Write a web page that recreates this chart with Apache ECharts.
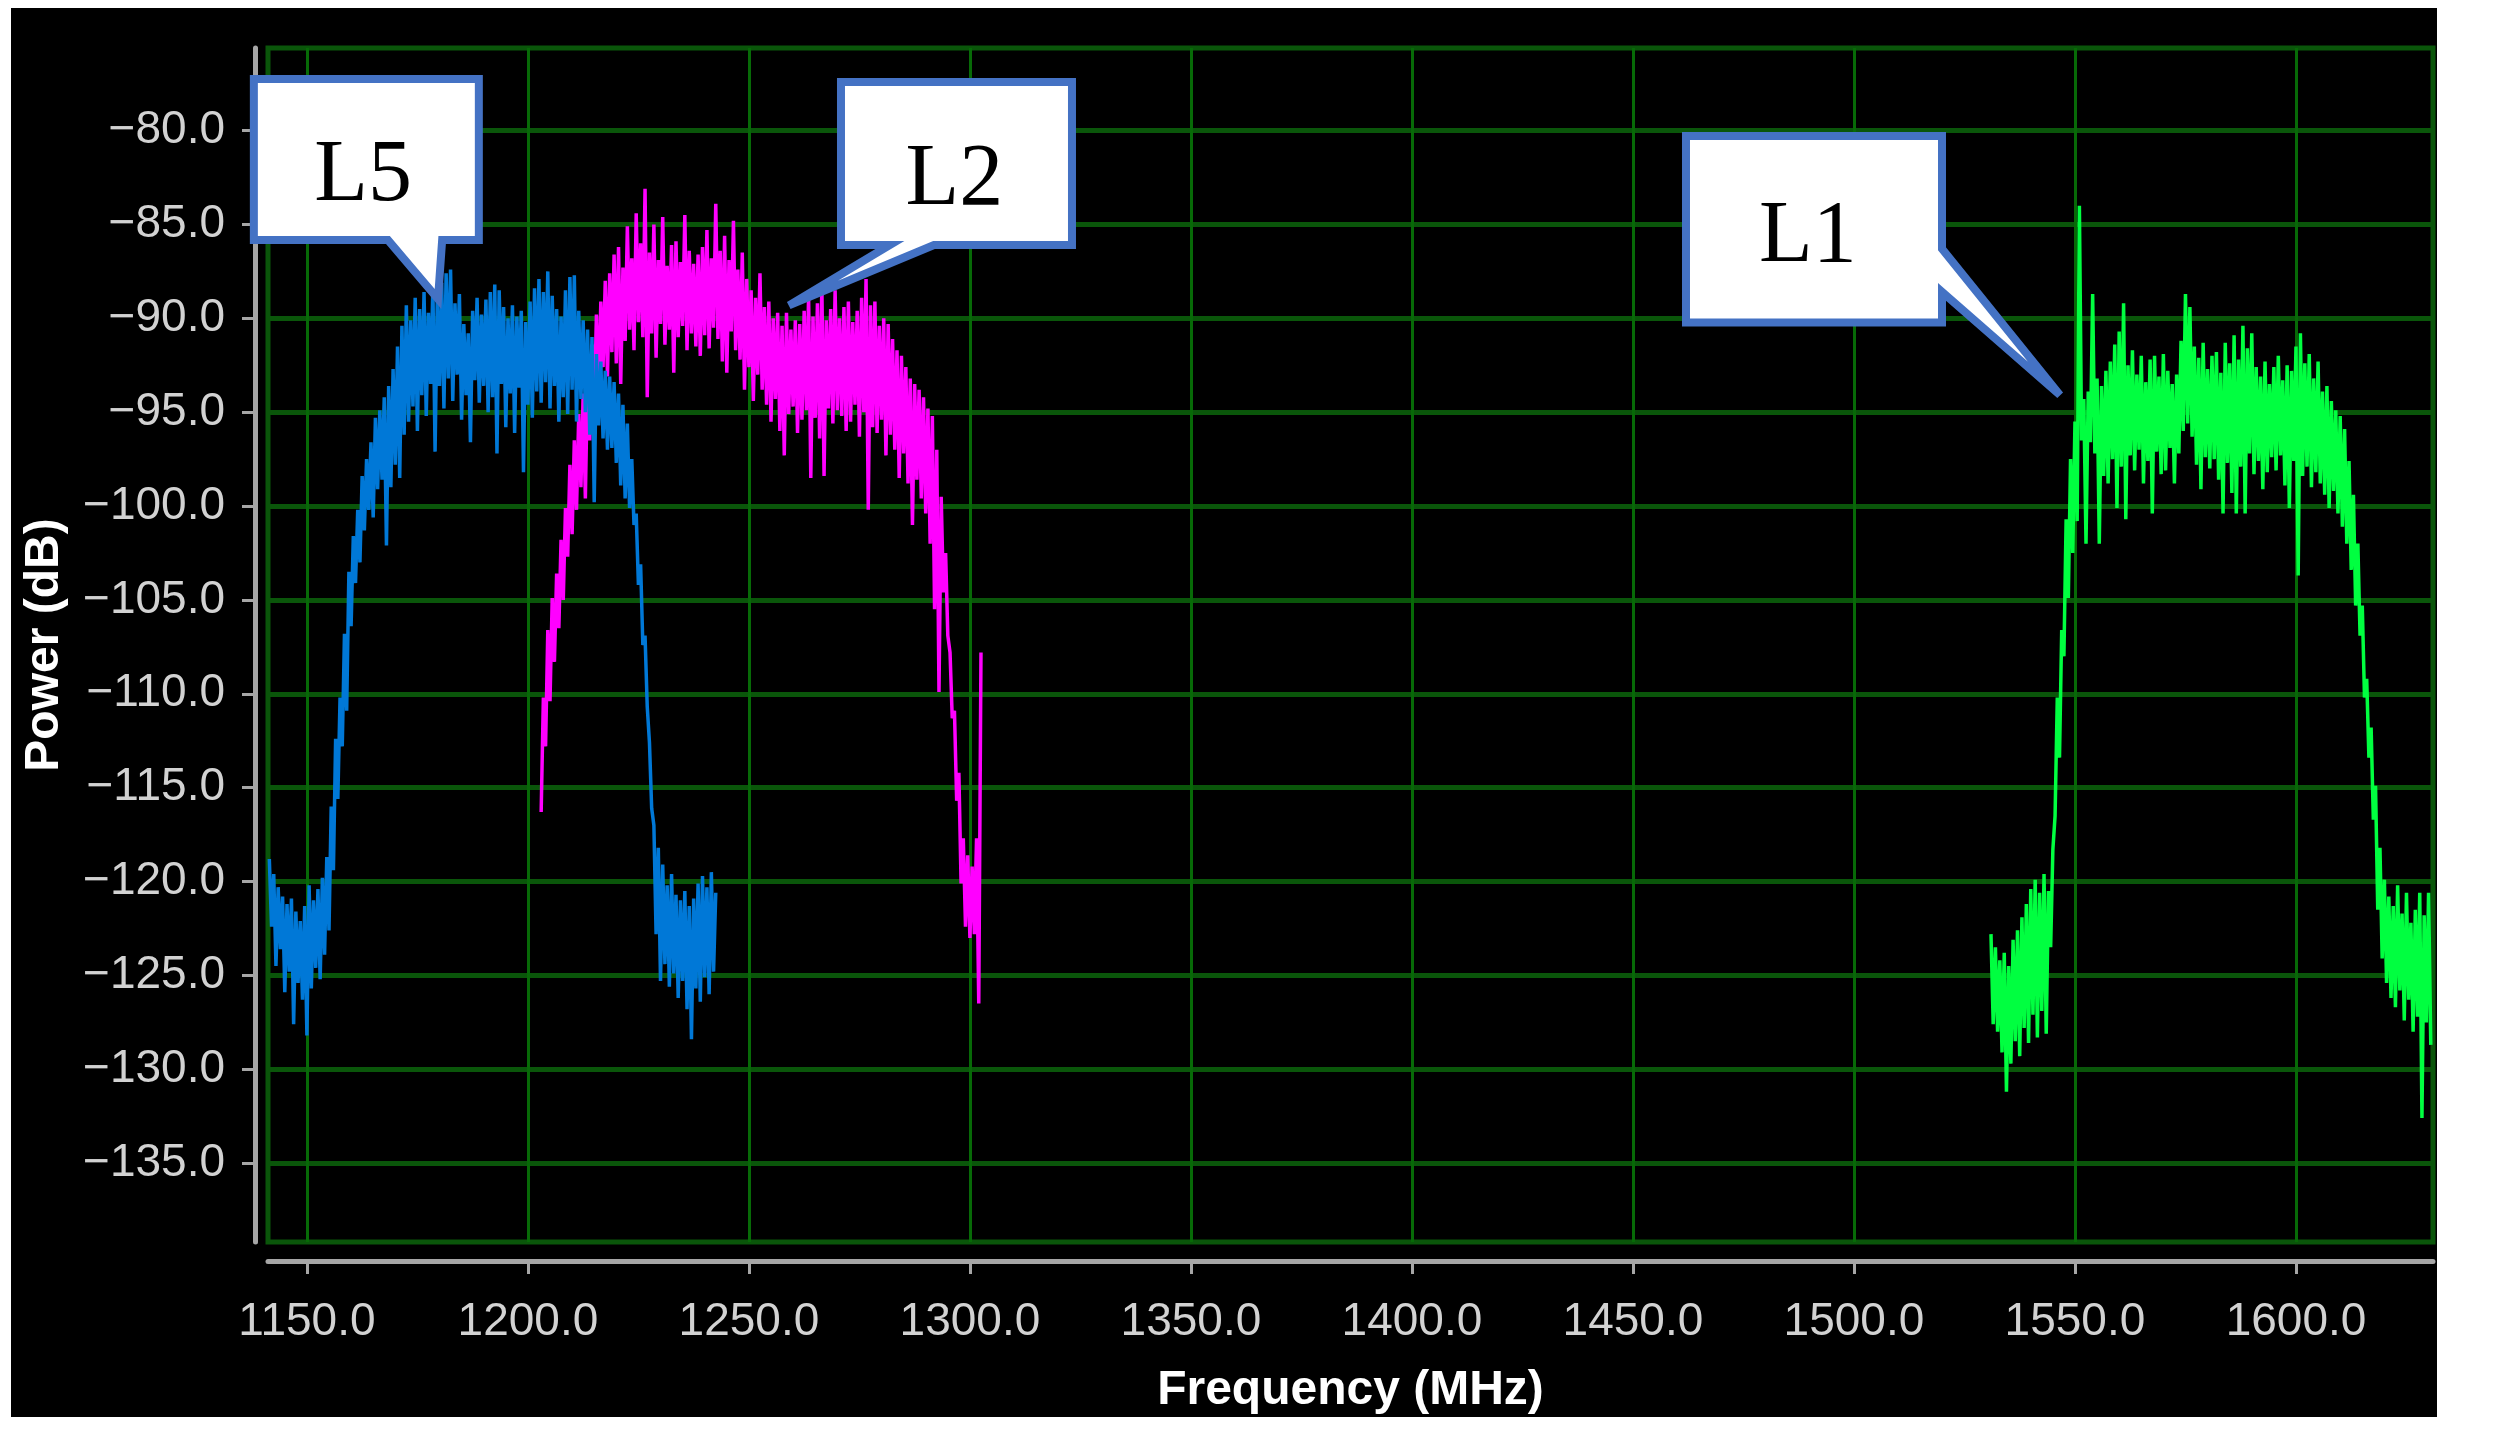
<!DOCTYPE html>
<html><head><meta charset="utf-8">
<script src="https://cdn.jsdelivr.net/npm/echarts@6/dist/echarts.min.js"></script>
<style>html,body{margin:0;padding:0;background:#fff;}#c{width:2497px;height:1433px;}</style>
</head><body><div id="c"></div>
<script>
// ---- data ----
const xTickValues = [1150,1200,1250,1300,1350,1400,1450,1500,1550,1600];
const yTickValues = [-135,-130,-125,-120,-115,-110,-105,-100,-95,-90,-85,-80];
const xRange = [1141.2, 1631];
const yRange = [-139.2, -75.6];
const xTitle = 'Frequency (MHz)';
const yTitle = 'Power (dB)';
const seriesNames = ['L2','L5','L1'];

const l5 = [[1141.5,-118.8],[1142,-122.4],[1142.5,-119.6],[1143,-124.5],[1143.5,-120.3],[1144,-123.6],[1144.5,-120.8],[1145,-125.9],[1145.5,-121.2],[1146,-124.8],[1146.5,-120.9],[1147,-127.6],[1147.5,-121.6],[1148,-125.4],[1148.5,-122.1],[1149,-126.3],[1149.5,-121.3],[1150,-128.2],[1150.5,-120.2],[1151,-125.7],[1151.5,-121.0],[1152,-124.6],[1152.5,-120.4],[1153,-125.2],[1153.5,-119.8],[1154,-123.9],[1154.5,-118.7],[1155,-122.6],[1155.5,-116.0],[1156,-119.4],[1156.5,-112.4],[1157,-115.6],[1157.5,-110.2],[1158,-112.8],[1158.5,-106.8],[1159,-110.9],[1159.5,-103.5],[1160,-106.4],[1160.5,-101.6],[1161,-104.1],[1161.5,-100.2],[1162,-103.0],[1162.5,-98.4],[1163,-101.3],[1163.5,-97.5],[1164,-100.2],[1164.5,-96.6],[1165,-100.6],[1165.5,-95.3],[1166,-99.1],[1166.5,-94.9],[1167,-98.6],[1167.5,-94.2],[1168,-102.1],[1168.5,-93.6],[1169,-99.0],[1169.5,-92.7],[1170,-97.8],[1170.5,-91.5],[1171,-98.5],[1171.5,-90.4],[1172,-96.2],[1172.5,-89.3],[1173,-95.5],[1173.5,-90.1],[1174,-94.7],[1174.5,-88.9],[1175,-96.0],[1175.5,-89.5],[1176,-94.1],[1176.5,-88.6],[1177,-95.2],[1177.5,-89.7],[1178,-93.5],[1178.5,-88.3],[1179,-97.1],[1179.5,-89.0],[1180,-93.6],[1180.5,-88.1],[1181,-94.8],[1181.5,-87.6],[1182,-93.2],[1182.5,-87.4],[1183,-94.4],[1183.5,-89.2],[1184,-93.0],[1184.5,-88.7],[1185,-95.4],[1185.5,-90.3],[1186,-94.1],[1186.5,-90.8],[1187,-96.6],[1187.5,-89.6],[1188,-93.3],[1188.5,-88.9],[1189,-94.5],[1189.5,-89.8],[1190,-93.6],[1190.5,-89.0],[1191,-95.0],[1191.5,-88.6],[1192,-94.2],[1192.5,-88.2],[1193,-97.2],[1193.5,-88.5],[1194,-93.5],[1194.5,-89.4],[1195,-95.8],[1195.5,-90.0],[1196,-94.0],[1196.5,-89.3],[1197,-96.1],[1197.5,-89.9],[1198,-93.7],[1198.5,-89.6],[1199,-98.2],[1199.5,-90.2],[1200,-94.6],[1200.5,-89.1],[1201,-95.3],[1201.5,-88.4],[1202,-93.9],[1202.5,-87.9],[1203,-94.5],[1203.5,-88.6],[1204,-93.4],[1204.5,-87.5],[1205,-94.8],[1205.5,-88.8],[1206,-93.6],[1206.5,-89.5],[1207,-95.5],[1207.5,-89.9],[1208,-94.2],[1208.5,-88.5],[1209,-95.1],[1209.5,-87.8],[1210,-93.8],[1210.5,-87.7],[1211,-95.5],[1211.5,-89.6],[1212,-94.3],[1212.5,-90.1],[1213,-95.0],[1213.5,-90.6],[1214,-96.2],[1214.5,-91.0],[1215,-99.8],[1215.5,-91.9],[1216,-95.7],[1216.5,-92.3],[1217,-96.4],[1217.5,-92.8],[1218,-97.0],[1218.5,-93.1],[1219,-96.9],[1219.5,-93.4],[1220,-97.7],[1220.5,-94.0],[1221,-98.9],[1221.5,-94.6],[1222,-99.6],[1222.5,-95.6],[1223,-100.1],[1223.5,-97.5],[1224,-101.0],[1224.5,-100.4],[1225,-104.2],[1225.5,-103.1],[1226,-107.4],[1226.5,-106.9],[1227,-110.7],[1227.5,-112.6],[1228,-116.1],[1228.5,-117.0],[1229,-122.8],[1229.5,-118.2],[1230,-125.3],[1230.5,-119.1],[1231,-124.4],[1231.5,-120.2],[1232,-125.6],[1232.5,-119.6],[1233,-124.9],[1233.5,-120.7],[1234,-126.2],[1234.5,-121.0],[1235,-125.3],[1235.5,-120.5],[1236,-126.8],[1236.5,-121.3],[1237,-128.4],[1237.5,-120.9],[1238,-125.7],[1238.5,-120.1],[1239,-126.4],[1239.5,-119.7],[1240,-125.1],[1240.5,-120.3],[1241,-126.0],[1241.5,-119.5],[1242,-124.8],[1242.5,-120.6]];

const l2 = [[1203,-116.3],[1203.5,-110.2],[1204,-112.8],[1204.5,-106.6],[1205,-110.4],[1205.5,-104.9],[1206,-108.3],[1206.5,-103.6],[1207,-106.5],[1207.5,-101.8],[1208,-105.0],[1208.5,-100.1],[1209,-102.7],[1209.5,-97.8],[1210,-101.5],[1210.5,-96.5],[1211,-100.2],[1211.5,-95.1],[1212,-99.0],[1212.5,-94.0],[1213,-99.6],[1213.5,-92.8],[1214,-96.5],[1214.5,-91.4],[1215,-95.2],[1215.5,-89.8],[1216,-94.0],[1216.5,-89.1],[1217,-92.6],[1217.5,-88.0],[1218,-93.1],[1218.5,-87.6],[1219,-91.8],[1219.5,-86.6],[1220,-92.4],[1220.5,-86.2],[1221,-93.5],[1221.5,-87.3],[1222,-91.2],[1222.5,-85.1],[1223,-90.6],[1223.5,-86.8],[1224,-91.7],[1224.5,-84.4],[1225,-90.2],[1225.5,-86.0],[1226,-91.0],[1226.5,-83.1],[1227,-94.2],[1227.5,-86.5],[1228,-90.8],[1228.5,-85.0],[1229,-92.1],[1229.5,-86.9],[1230,-90.3],[1230.5,-84.6],[1231,-91.4],[1231.5,-87.2],[1232,-90.6],[1232.5,-86.1],[1233,-92.9],[1233.5,-85.9],[1234,-91.0],[1234.5,-87.0],[1235,-90.4],[1235.5,-84.5],[1236,-91.7],[1236.5,-86.4],[1237,-90.8],[1237.5,-87.1],[1238,-91.5],[1238.5,-86.6],[1239,-92.0],[1239.5,-86.2],[1240,-90.9],[1240.5,-85.3],[1241,-91.6],[1241.5,-86.8],[1242,-90.5],[1242.5,-83.9],[1243,-91.1],[1243.5,-86.4],[1244,-92.3],[1244.5,-85.6],[1245,-92.9],[1245.5,-86.9],[1246,-90.7],[1246.5,-84.8],[1247,-91.7],[1247.5,-87.4],[1248,-92.2],[1248.5,-86.5],[1249,-93.8],[1249.5,-87.9],[1250,-92.6],[1250.5,-88.5],[1251,-94.4],[1251.5,-88.9],[1252,-93.0],[1252.5,-87.6],[1253,-93.8],[1253.5,-89.4],[1254,-94.6],[1254.5,-89.1],[1255,-95.5],[1255.5,-90.0],[1256,-94.3],[1256.5,-89.7],[1257,-96.0],[1257.5,-90.4],[1258,-97.3],[1258.5,-89.7],[1259,-95.1],[1259.5,-90.6],[1260,-94.7],[1260.5,-90.1],[1261,-96.1],[1261.5,-90.3],[1262,-95.4],[1262.5,-89.6],[1263,-94.9],[1263.5,-88.8],[1264,-98.5],[1264.5,-89.9],[1265,-95.3],[1265.5,-89.2],[1266,-96.4],[1266.5,-88.2],[1267,-98.4],[1267.5,-90.1],[1268,-94.8],[1268.5,-89.5],[1269,-95.6],[1269.5,-88.5],[1270,-94.9],[1270.5,-90.0],[1271,-95.2],[1271.5,-89.4],[1272,-96.0],[1272.5,-89.1],[1273,-95.5],[1273.5,-90.2],[1274,-94.6],[1274.5,-89.6],[1275,-96.3],[1275.5,-88.9],[1276,-95.0],[1276.5,-87.9],[1277,-100.2],[1277.5,-89.3],[1278,-95.8],[1278.5,-89.1],[1279,-96.1],[1279.5,-90.4],[1280,-95.4],[1280.5,-90.0],[1281,-97.3],[1281.5,-90.3],[1282,-96.2],[1282.5,-91.1],[1283,-97.0],[1283.5,-91.7],[1284,-98.5],[1284.5,-92.0],[1285,-97.2],[1285.5,-92.6],[1286,-98.8],[1286.5,-93.2],[1287,-101.0],[1287.5,-93.5],[1288,-98.6],[1288.5,-93.8],[1289,-99.6],[1289.5,-94.2],[1290,-100.4],[1290.5,-94.8],[1291,-102.0],[1291.5,-95.2],[1292,-105.5],[1292.5,-97.0],[1293,-109.9],[1293.5,-99.5],[1294,-104.6],[1294.5,-102.5],[1295,-106.9],[1295.5,-107.8],[1296,-111.3],[1296.5,-110.9],[1297,-115.7],[1297.5,-114.2],[1298,-120.1],[1298.5,-117.7],[1299,-122.4],[1299.5,-118.6],[1300,-123.0],[1300.5,-119.2],[1301,-122.8],[1301.5,-117.7],[1302,-126.5],[1302.5,-107.8]];

const l1 = [[1531,-122.8],[1531.5,-127.6],[1532,-123.5],[1532.5,-128.0],[1533,-124.2],[1533.5,-129.1],[1534,-123.8],[1534.5,-131.2],[1535,-124.5],[1535.5,-129.7],[1536,-123.1],[1536.5,-128.5],[1537,-122.6],[1537.5,-129.3],[1538,-121.9],[1538.5,-127.8],[1539,-121.2],[1539.5,-128.6],[1540,-120.4],[1540.5,-127.1],[1541,-119.9],[1541.5,-128.3],[1542,-120.6],[1542.5,-126.9],[1543,-119.6],[1543.5,-128.1],[1544,-120.5],[1544.5,-123.5],[1545,-118.3],[1545.5,-116.5],[1546,-110.2],[1546.5,-113.4],[1547,-106.6],[1547.5,-108.0],[1548,-100.7],[1548.5,-104.9],[1549,-97.5],[1549.5,-102.5],[1550,-95.5],[1550.5,-100.8],[1551,-84.0],[1551.5,-96.5],[1552,-94.3],[1552.5,-102.0],[1553,-93.9],[1553.5,-96.6],[1554,-88.7],[1554.5,-97.2],[1555,-93.2],[1555.5,-102.0],[1556,-93.6],[1556.5,-98.4],[1557,-92.8],[1557.5,-98.8],[1558,-92.3],[1558.5,-97.5],[1559,-91.4],[1559.5,-100.1],[1560,-90.7],[1560.5,-97.9],[1561,-89.2],[1561.5,-100.7],[1562,-92.5],[1562.5,-97.3],[1563,-91.7],[1563.5,-98.1],[1564,-93.0],[1564.5,-97.0],[1565,-92.0],[1565.5,-98.8],[1566,-93.4],[1566.5,-97.6],[1567,-92.2],[1567.5,-100.4],[1568,-92.0],[1568.5,-97.1],[1569,-93.1],[1569.5,-98.3],[1570,-91.9],[1570.5,-98.1],[1571,-92.8],[1571.5,-96.9],[1572,-93.5],[1572.5,-98.8],[1573,-93.0],[1573.5,-97.2],[1574,-91.2],[1574.5,-96.0],[1575,-88.7],[1575.5,-95.6],[1576,-89.4],[1576.5,-96.3],[1577,-91.5],[1577.5,-97.8],[1578,-92.1],[1578.5,-99.1],[1579,-91.3],[1579.5,-97.4],[1580,-92.7],[1580.5,-98.0],[1581,-92.0],[1581.5,-97.5],[1582,-91.8],[1582.5,-98.6],[1583,-92.9],[1583.5,-100.4],[1584,-91.3],[1584.5,-97.7],[1585,-92.4],[1585.5,-99.3],[1586,-90.9],[1586.5,-100.4],[1587,-92.2],[1587.5,-97.9],[1588,-90.4],[1588.5,-100.4],[1589,-91.6],[1589.5,-97.2],[1590,-90.8],[1590.5,-98.3],[1591,-92.6],[1591.5,-97.6],[1592,-93.1],[1592.5,-99.1],[1593,-92.3],[1593.5,-98.2],[1594,-93.5],[1594.5,-97.4],[1595,-92.6],[1595.5,-98.1],[1596,-92.0],[1596.5,-97.3],[1597,-93.3],[1597.5,-98.9],[1598,-92.5],[1598.5,-100.1],[1599,-92.8],[1599.5,-97.6],[1600,-91.5],[1600.5,-103.7],[1601,-90.8],[1601.5,-98.4],[1602,-92.4],[1602.5,-97.9],[1603,-91.9],[1603.5,-99.0],[1604,-93.2],[1604.5,-98.2],[1605,-92.3],[1605.5,-98.8],[1606,-93.9],[1606.5,-99.4],[1607,-93.6],[1607.5,-100.1],[1608,-94.4],[1608.5,-99.2],[1609,-94.9],[1609.5,-100.4],[1610,-95.2],[1610.5,-101.1],[1611,-95.9],[1611.5,-102.0],[1612,-97.6],[1612.5,-103.4],[1613,-99.4],[1613.5,-105.3],[1614,-102.0],[1614.5,-106.9],[1615,-105.3],[1615.5,-110.2],[1616,-109.2],[1616.5,-113.4],[1617,-111.8],[1617.5,-116.7],[1618,-114.9],[1618.5,-121.5],[1619,-118.2],[1619.5,-124.1],[1620,-119.9],[1620.5,-125.4],[1621,-120.8],[1621.5,-126.2],[1622,-121.3],[1622.5,-126.7],[1623,-120.2],[1623.5,-125.8],[1624,-121.7],[1624.5,-127.4],[1625,-120.6],[1625.5,-126.3],[1626,-122.2],[1626.5,-128.0],[1627,-121.5],[1627.5,-127.2],[1628,-120.6],[1628.5,-132.6],[1629,-121.8],[1629.5,-127.5],[1630,-120.6],[1630.5,-128.7]];

// callout annotations, anchored in data units
const calloutLabels = ['L5','L2','L1'];
const calloutGeom = {
  L5: {box:[1138.0,-77.25,1188.9,-85.83], edge:'bottom', base:[1168.35,1180.6], tip:[1179.66,-88.97], text:[1162.7,-82.47]},
  L2: {box:[1270.83,-77.41,1323.09,-86.09], edge:'bottom', base:[1281.9,1291.87], tip:[1259.07,-89.31], text:[1296.5,-82.68]},
  L1: {box:[1462.0,-80.29,1519.92,-90.22], edge:'right', base:[-86.3,-88.59], tip:[1546.6,-94.08], text:[1489.6,-85.72]}
};

const chart = echarts.init(document.getElementById('c'), null, {renderer:'canvas'});
const minus = v => v.toFixed(1).replace('-', '\u2212');
const gridCol = '#076a07';
const bgRect = {type: 'rect', z: -10, silent: true, shape: {x: 11, y: 8, width: 2426, height: 1409}, style: {fill: '#000'}};
chart.setOption({
  backgroundColor: '#ffffff',
  animation: false,
  grid: {left: 268, top: 48, width: 2165, height: 1194, show: true, backgroundColor: '#000', borderColor: '#0a560a', borderWidth: 5},
  xAxis: {
    type: 'value', min: xRange[0], max: xRange[1], splitNumber: 10, offset: 19,
    name: xTitle, nameLocation: 'middle', nameGap: 106,
    nameTextStyle: {color: '#ffffff', fontFamily: 'Liberation Sans', fontWeight: 'bold', fontSize: 48},
    axisLine: {show: true, lineStyle: {color: '#a6a6a6', width: 5}},
    axisTick: {show: true, customValues: xTickValues, length: 13, lineStyle: {color: '#a6a6a6', width: 3}},
    axisLabel: {customValues: xTickValues, margin: 38, color: '#d2d2d2', fontFamily: 'Liberation Sans', fontSize: 46, formatter: v => v.toFixed(1)},
    splitLine: {show: true, lineStyle: {color: gridCol, width: 3}}
  },
  yAxis: {
    type: 'value', min: yRange[0], max: yRange[1], splitNumber: 13, offset: 13,
    name: yTitle, nameLocation: 'middle', nameGap: 186,
    nameTextStyle: {color: '#ffffff', fontFamily: 'Liberation Sans', fontWeight: 'bold', fontSize: 48},
    axisLine: {show: true, lineStyle: {color: '#a6a6a6', width: 5}},
    axisTick: {show: true, customValues: yTickValues, length: 13, lineStyle: {color: '#a6a6a6', width: 3}},
    axisLabel: {customValues: yTickValues, margin: 30, color: '#d2d2d2', fontFamily: 'Liberation Sans', fontSize: 46, formatter: v => minus(v)},
    splitLine: {show: true, lineStyle: {color: '#0a560a', width: 5}}
  },
  series: [
    {name: seriesNames[0], type: 'line', data: l2, showSymbol: false, symbol: 'none', lineStyle: {color: '#ff00ff', width: 3.5, join: 'bevel'}, z: 3},
    {name: seriesNames[1], type: 'line', data: l5, showSymbol: false, symbol: 'none', lineStyle: {color: '#0078d7', width: 3.5, join: 'bevel'}, z: 4},
    {name: seriesNames[2], type: 'line', data: l1, showSymbol: false, symbol: 'none', lineStyle: {color: '#00ff40', width: 3.5, join: 'bevel'}, z: 3}
  ],
  graphic: [bgRect]
});

// build callouts
const P = (x, y) => chart.convertToPixel({gridIndex: 0}, [x, y]);
const g = [bgRect];
calloutLabels.forEach(lbl => {
  const c = calloutGeom[lbl];
  const tl = P(c.box[0], c.box[1]), br = P(c.box[2], c.box[3]);
  const L = tl[0], T = tl[1], R = br[0], B = br[1];
  const tip = P(c.tip[0], c.tip[1]);
  let pts;
  if (c.edge === 'bottom') {
    const a = P(c.base[0], 0)[0], b = P(c.base[1], 0)[0];
    pts = [[L,T],[R,T],[R,B],[b,B],tip,[a,B],[L,B]];
  } else {
    const a = P(0, c.base[0])[1], b = P(0, c.base[1])[1];
    pts = [[L,T],[R,T],[R,a],tip,[R,b],[R,B],[L,B]];
  }
  g.push({type: 'polygon', z: 50, shape: {points: pts}, style: {fill: '#ffffff', stroke: '#4472c4', lineWidth: 8, lineJoin: 'miter'}});
  const tp = P(c.text[0], c.text[1]);
  g.push({type: 'text', z: 51, x: tp[0], y: tp[1], style: {text: lbl, fill: '#000', fontFamily: 'Liberation Serif', fontSize: 88, align: 'center', verticalAlign: 'middle'}});
});
chart.setOption({graphic: g}, {replaceMerge: ['graphic']});
</script>
</body></html>
